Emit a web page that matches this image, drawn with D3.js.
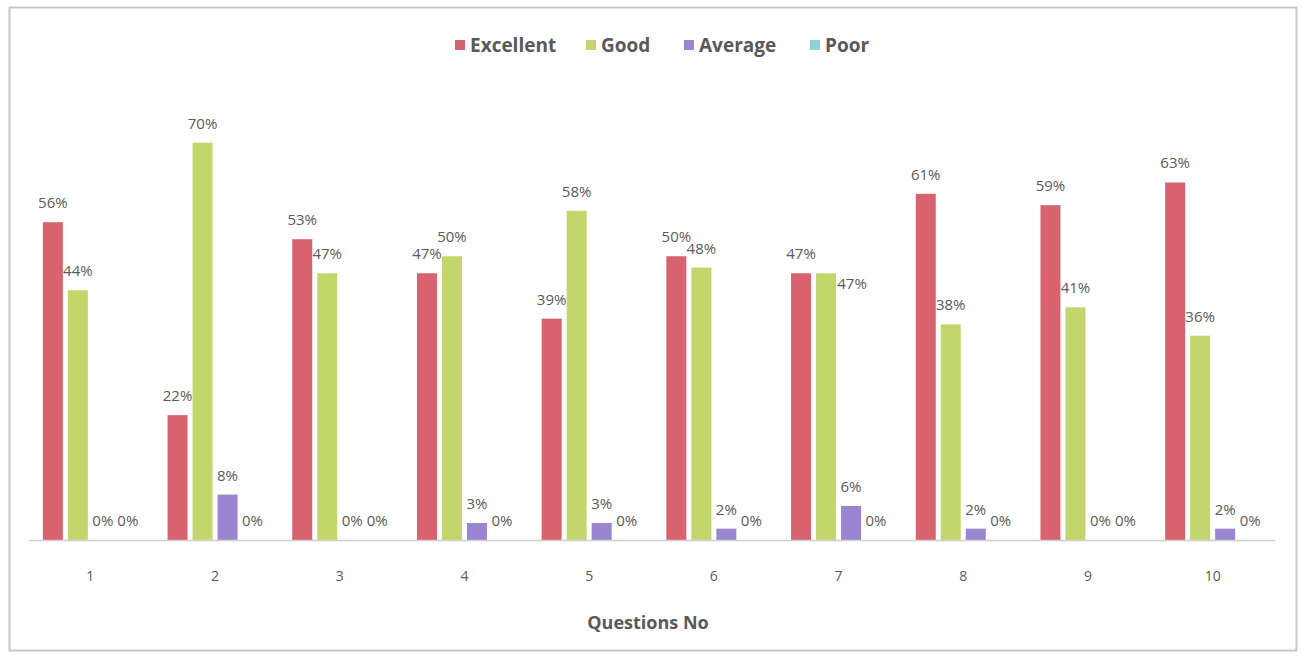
<!DOCTYPE html>
<html>
<head>
<meta charset="utf-8">
<script src="https://cdn.jsdelivr.net/npm/d3@7"></script>
<style>
  html, body { margin: 0; padding: 0; background: #ffffff; }
  svg { display: block; font-family: "Open Sans", "DejaVu Sans", sans-serif; }
</style>
</head>
<body>
<svg id="chart" width="1302" height="657"></svg>
<script>
const categories = ["1", "2", "3", "4", "5", "6", "7", "8", "9", "10"];
const seriesNames = ["Excellent", "Good", "Average", "Poor"];
const excellent = [0.56, 0.22, 0.53, 0.47, 0.39, 0.50, 0.47, 0.61, 0.59, 0.63];
const good      = [0.44, 0.70, 0.47, 0.50, 0.58, 0.48, 0.47, 0.38, 0.41, 0.36];
const average   = [0.00, 0.08, 0.00, 0.03, 0.03, 0.02, 0.06, 0.02, 0.00, 0.02];
const poor      = [0.00, 0.00, 0.00, 0.00, 0.00, 0.00, 0.00, 0.00, 0.00, 0.00];
const colors = ["#d9626f", "#c3d66c", "#9a86d0", "#8fd0da"];
const xTitle = "Questions No";

const values = [excellent, good, average, poor];
const svg = d3.select("#chart");

// frame
svg.append("rect")
  .attr("x", 9.5).attr("y", 7.5).attr("width", 1287).attr("height", 643)
  .attr("fill", "#fff").attr("stroke", "#c8c8c8").attr("stroke-width", 2);

const x0 = d3.scaleBand().domain(categories).range([28, 1275]).padding(0);
const x1 = d3.scaleBand().domain(seriesNames)
  .range([x0.bandwidth() / 2 - 50, x0.bandwidth() / 2 + 50])
  .paddingInner(0.2).paddingOuter(0.1);
const y = d3.scaleLinear().domain([0, 0.8]).range([540, 86]);

// bars
seriesNames.forEach((s, si) => {
  const g = svg.append("g");
  g.selectAll("rect").data(values[si]).join("rect")
    .attr("x", (d, i) => x0(categories[i]) + x1(s))
    .attr("y", d => y(d))
    .attr("width", x1.bandwidth())
    .attr("height", d => y(0) - y(d))
    .attr("fill", colors[si]);
  // when a label would collide with the previous series' label, nudge it down/right
  const clash = (d, i) => si > 0 && Math.abs(values[si - 1][i] - d) < 0.015 && d > 0;
  g.selectAll("text").data(values[si]).join("text")
    .attr("x", (d, i) => x0(categories[i]) + x1(s) + x1.bandwidth() / 2 + (clash(d, i) ? 26 : 0))
    .attr("y", (d, i) => clash(d, i) ? y(d) + 16 : y(d) - 14)
    .attr("text-anchor", "middle")
    .attr("font-size", 15)
    .attr("fill", "#5a5a5a")
    .text(d => d3.format(".0%")(d));
});

// x axis
const axis = svg.append("g")
  .attr("transform", `translate(0,${y(0)})`)
  .call(d3.axisBottom(x0).tickSize(0).tickPadding(31));
axis.select(".domain").attr("stroke", "#cfcfcf").attr("stroke-width", 1.5);
axis.selectAll(".tick text")
  .attr("font-size", 14).attr("fill", "#5a5a5a")
  .attr("font-family", "\"Open Sans\", sans-serif");

// axis title
svg.append("text")
  .attr("x", 648).attr("y", 629)
  .attr("text-anchor", "middle")
  .attr("font-size", 18).attr("font-weight", "bold")
  .attr("fill", "#595959")
  .text(xTitle);

// legend
const legendX = [455, 586, 684, 810];
const legend = svg.append("g");
seriesNames.forEach((s, i) => {
  legend.append("rect")
    .attr("x", legendX[i]).attr("y", 40)
    .attr("width", 10).attr("height", 10)
    .attr("fill", colors[i]);
  legend.append("text")
    .attr("x", legendX[i] + 15).attr("y", 52)
    .attr("font-size", 19).attr("font-weight", "bold")
    .attr("fill", "#595959")
    .text(s);
});
</script>
</body>
</html>
